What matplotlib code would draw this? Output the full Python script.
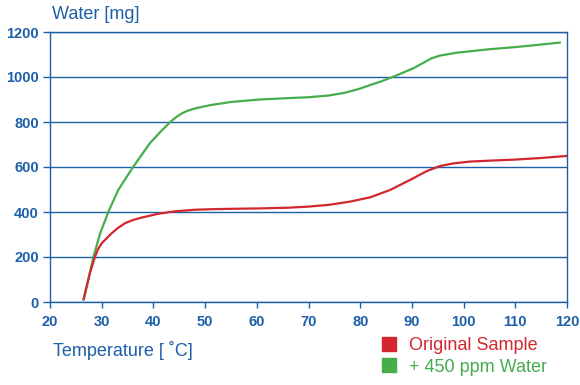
import matplotlib
matplotlib.use("Agg")
import matplotlib.pyplot as plt
from matplotlib.lines import Line2D

# readings taken off the reference curves
temp_wet = [26.5, 27.4, 28.4, 29.7, 31.3, 33.2, 36.1, 39.3, 41.5, 43.5, 44.5, 45.5, 46.5,
            48, 51, 55, 60.6, 65, 70, 74, 77, 79.5, 81.9, 84, 86.7, 90.3, 93.8, 95.4,
            98.7, 104.8, 110, 114.5, 118.6]
water_wet = [12, 98, 201, 305, 401, 498, 601, 705, 760, 805, 823, 838, 849,
             860, 875, 889, 900, 905, 910, 918, 930, 945, 964, 980, 1004, 1039, 1083, 1095,
             1108, 1123, 1133, 1143, 1153]

temp_orig = [26.5, 27.7, 28.7, 29.3, 30.0, 31.9, 33.2, 34.5, 36, 37.7, 40.9, 44.2, 48, 52,
             60.6, 66, 70, 74, 78, 81.9, 85.8, 89.6, 92.9, 95.4, 98, 101.2, 104.8, 110,
             115, 119.9]
water_orig = [12, 127, 201, 235, 261, 305, 330, 350, 364, 375, 392, 403, 410, 413,
              416, 419, 424, 432, 446, 465, 498, 542, 582, 604, 616, 624, 628, 633,
              640, 649]

series_labels = ["Original Sample", "+ 450 ppm Water"]
x_ticks = [20, 30, 40, 50, 60, 70, 80, 90, 100, 110, 120]
y_ticks = [0, 200, 400, 600, 800, 1000, 1200]

BLUE = "#1d5fa8"
RED = "#d3262e"
GREEN = "#47ad4b"

plt.rcParams["font.family"] = ["Liberation Sans", "DejaVu Sans"]

fig = plt.figure(figsize=(5.8, 3.85), dpi=100)
ax = fig.add_axes([50 / 580, 1 - 302 / 385, 517 / 580, 270 / 385])

ax.set_xlim(20, 120)
ax.set_ylim(0, 1200)
ax.set_xticks(x_ticks)
ax.set_yticks(y_ticks)
ax.yaxis.grid(True, color=BLUE, linewidth=1.0)
ax.set_axisbelow(True)

ax.plot(temp_wet, water_wet, color=GREEN, linewidth=1.6, solid_joinstyle="round")
ax.plot(temp_orig, water_orig, color=RED, linewidth=1.6, solid_joinstyle="round")

for side in ["left", "bottom", "right", "top"]:
    ax.spines[side].set_color(BLUE)
    ax.spines[side].set_linewidth(1.0)

ax.tick_params(axis="x", direction="out", length=4.5, width=1.0, color=BLUE,
               labelcolor=BLUE, labelsize=10.5, pad=5)
ax.tick_params(axis="y", direction="out", length=5, width=1.0, color=BLUE,
               labelcolor=BLUE, labelsize=10.5, pad=3)
for lbl in ax.get_xticklabels() + ax.get_yticklabels():
    lbl.set_fontweight("bold")

ax.text(0.004, 1.063, "Water [mg]", transform=ax.transAxes, color=BLUE,
        fontsize=13, ha="left", va="center")
ax.text(0.006, -0.178, "Temperature [ ˚C]", transform=ax.transAxes, color=BLUE,
        fontsize=13, ha="left", va="center")

handles = [Line2D([], [], marker="s", linestyle="", color=c, markersize=10)
           for c in (RED, GREEN)]
leg = fig.legend(handles, series_labels, loc="upper left",
                 bbox_to_anchor=(380 / 580, 1 - 337 / 385), frameon=False,
                 fontsize=13, handlelength=1.0, handletextpad=0.6,
                 labelspacing=0.25, borderpad=0, borderaxespad=0)
for txt, c in zip(leg.get_texts(), (RED, GREEN)):
    txt.set_color(c)

fig.savefig("out.png", dpi=100)
